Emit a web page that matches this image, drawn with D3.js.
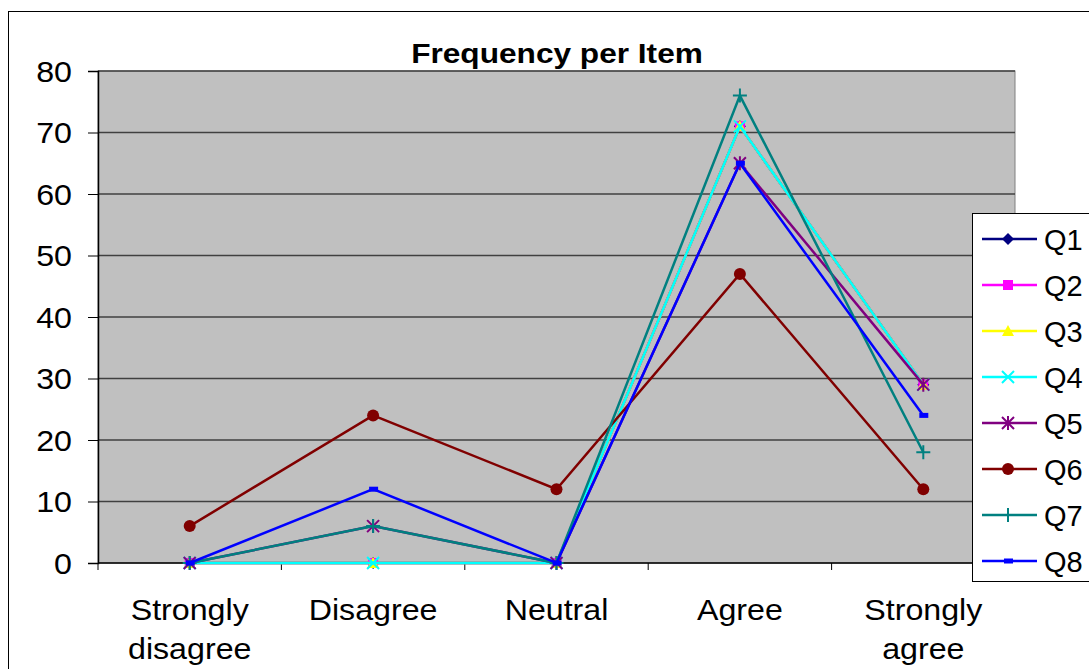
<!DOCTYPE html>
<html>
<head>
<meta charset="utf-8">
<script src="https://cdn.jsdelivr.net/npm/d3@7"></script>
<style>
  body { margin: 0; background: #fff; }
  text { font-family: "Liberation Sans", Arial, sans-serif; }
</style>
</head>
<body>
<div id="chart"></div>
<script>
const categories = ["Strongly disagree", "Disagree", "Neutral", "Agree", "Strongly agree"];
const seriesNames = ["Q1", "Q2", "Q3", "Q4", "Q5", "Q6", "Q7", "Q8"];
const q1 = [0, 0, 0, 71, 29];
const q2 = [0, 0, 0, 71, 29];
const q3 = [0, 0, 0, 71, 29];
const q4 = [0, 0, 0, 71, 29];
const q5 = [0, 6, 0, 65, 29];
const q6 = [6, 24, 12, 47, 12];
const q7 = [0, 6, 0, 76, 18];
const q8 = [0, 12, 0, 65, 24];
const yTicks = [0, 10, 20, 30, 40, 50, 60, 70, 80];

const values = [q1, q2, q3, q4, q5, q6, q7, q8];
const colors = ["#000080", "#ff00ff", "#ffff00", "#00ffff", "#800080", "#800000", "#008080", "#0000ff"];
const shapes = ["diamond", "square", "triangle", "x", "star", "circle", "plus", "dash"];

const width = 1089, height = 669;
const margin = { top: 71, right: 74, bottom: 106, left: 98 };
const stretch = 1.11;

const svg = d3.select("#chart").append("svg")
  .attr("width", width)
  .attr("height", height);

// text that is a little wider than normal, like the original
function wideText(parent, tx, ty, str, opts = {}) {
  const g = parent.append("g").attr("transform", `translate(${tx},${ty}) scale(${stretch},1)`);
  return g.append("text")
    .attr("text-anchor", opts.anchor || "middle")
    .attr("font-size", opts.size || 29)
    .attr("font-weight", opts.weight || "normal")
    .text(str);
}

// outer chart border
svg.append("rect")
  .attr("x", 8.5).attr("y", 11.5)
  .attr("width", 1200).attr("height", 800)
  .attr("fill", "#fff").attr("stroke", "#000").attr("stroke-width", 1);

const x = d3.scalePoint()
  .domain(categories)
  .range([margin.left, width - margin.right])
  .padding(0.5);

const band = x.step();

const y = d3.scaleLinear()
  .domain([0, 80])
  .range([height - margin.bottom, margin.top]);

// plot area
svg.append("rect")
  .attr("x", margin.left).attr("y", margin.top)
  .attr("width", width - margin.right - margin.left)
  .attr("height", y(0) - margin.top)
  .attr("fill", "#c0c0c0")
  .attr("stroke", "#808080");

// gridlines
svg.append("g")
  .selectAll("line")
  .data(yTicks.slice(1))
  .join("line")
  .attr("x1", margin.left).attr("x2", width - margin.right)
  .attr("y1", d => y(d)).attr("y2", d => y(d))
  .attr("stroke", "#404040").attr("stroke-width", 1.5);

// y axis
const yAxis = svg.append("g")
  .attr("transform", `translate(${margin.left},0)`)
  .call(d3.axisLeft(y).tickValues(yTicks).tickSize(10).tickFormat(""));
yAxis.select(".domain").attr("stroke", "#000").attr("stroke-width", 1.5);
yAxis.selectAll(".tick line").attr("stroke", "#000");
yTicks.forEach(t => {
  wideText(svg, 72, y(t) + 10.5, String(t), { anchor: "end" });
});

// x axis
const xAxis = svg.append("g")
  .attr("transform", `translate(0,${y(0)})`);
xAxis.append("line")
  .attr("x1", margin.left).attr("x2", width - margin.right)
  .attr("stroke", "#000").attr("stroke-width", 1.5);
xAxis.selectAll("line.tk")
  .data(d3.range(categories.length + 1))
  .join("line")
  .attr("class", "tk")
  .attr("x1", i => margin.left + i * band).attr("x2", i => margin.left + i * band)
  .attr("y1", 0).attr("y2", 7)
  .attr("stroke", "#000");
categories.forEach(c => {
  c.split(" ").forEach((w, i) => {
    wideText(svg, x(c), 620 + i * 39, w);
  });
});

// title
wideText(svg, 557, 63, "Frequency per Item", { size: 28.5, weight: "bold" });

function marker(g, shape, color) {
  const s = 6;
  if (shape === "diamond") {
    g.append("path").attr("d", `M0,${-s}L${s},0L0,${s}L${-s},0Z`).attr("fill", color);
  } else if (shape === "square") {
    g.append("rect").attr("x", -5).attr("y", -5).attr("width", 10).attr("height", 10).attr("fill", color);
  } else if (shape === "triangle") {
    g.append("path").attr("d", `M0,${-s}L${s},${s - 1}L${-s},${s - 1}Z`).attr("fill", color);
  } else if (shape === "x") {
    g.append("path").attr("d", `M${-s},${-s}L${s},${s}M${s},${-s}L${-s},${s}`).attr("stroke", color).attr("stroke-width", 2);
  } else if (shape === "star") {
    g.append("path").attr("d", `M${-s},${-s}L${s},${s}M${s},${-s}L${-s},${s}M0,${-s - 1}L0,${s + 1}`).attr("stroke", color).attr("stroke-width", 2);
  } else if (shape === "circle") {
    g.append("circle").attr("r", 6).attr("fill", color);
  } else if (shape === "plus") {
    g.append("path").attr("d", `M${-s - 1},0L${s + 1},0M0,${-s - 1}L0,${s + 1}`).attr("stroke", color).attr("stroke-width", 2);
  } else if (shape === "dash") {
    g.append("rect").attr("x", -4).attr("y", -2.5).attr("width", 9).attr("height", 5).attr("fill", color);
  }
}

const line = d3.line()
  .x((d, i) => x(categories[i]))
  .y(d => y(d));

values.forEach((vals, k) => {
  const g = svg.append("g");
  g.append("path")
    .datum(vals)
    .attr("d", line)
    .attr("fill", "none")
    .attr("stroke", colors[k])
    .attr("stroke-width", 2.5);
  vals.forEach((v, i) => {
    const m = g.append("g").attr("transform", `translate(${x(categories[i])},${y(v)})`);
    marker(m, shapes[k], colors[k]);
  });
});

// legend
const legend = svg.append("g");
legend.append("rect")
  .attr("x", 972.5).attr("y", 213.5)
  .attr("width", 200).attr("height", 368)
  .attr("fill", "#fff").attr("stroke", "#000");
seriesNames.forEach((name, k) => {
  const ly = 239 + k * 46;
  legend.append("line")
    .attr("x1", 982).attr("x2", 1037)
    .attr("y1", ly).attr("y2", ly)
    .attr("stroke", colors[k]).attr("stroke-width", 2.5);
  const m = legend.append("g").attr("transform", `translate(1008,${ly})`);
  marker(m, shapes[k], colors[k]);
  legend.append("text")
    .attr("x", 1044).attr("y", ly + 10.5)
    .attr("font-size", 29)
    .text(name);
});
</script>
</body>
</html>
